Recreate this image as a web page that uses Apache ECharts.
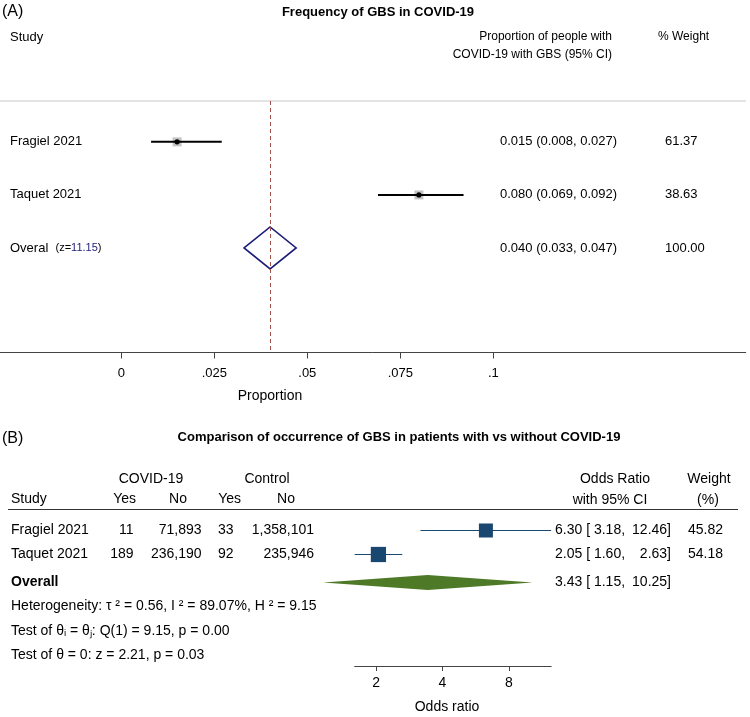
<!DOCTYPE html>
<html><head><meta charset="utf-8">
<script src="https://cdn.jsdelivr.net/npm/echarts@6/dist/echarts.min.js"></script>
<style>html,body{margin:0;padding:0;background:#fff}#c{width:750px;height:717px}</style>
</head><body><div id="c"></div>
<script>
// ---------- Panel A data ----------
const studiesA = ['Fragiel 2021', 'Taquet 2021'];
const propA = [0.015, 0.080];
const loA = [0.008, 0.069];
const hiA = [0.027, 0.092];
const weightA = ['61.37', '38.63'];
const overallPropA = 0.040;
const overallLoA = 0.033;
const overallHiA = 0.047;
const overallWeightA = '100.00';
const overallZA = '11.15';
const ticksA = [0, 0.025, 0.05, 0.075, 0.1];
const tickLabelsA = ['0', '.025', '.05', '.075', '.1'];

// ---------- Panel B data ----------
const studiesB = ['Fragiel 2021', 'Taquet 2021'];
const covidYes = [11, 189];
const covidNo = [71893, 236190];
const ctrlYes = [33, 92];
const ctrlNo = [1358101, 235946];
const orB = [6.30, 2.05];
const loB = [3.18, 1.60];
const hiB = [12.46, 2.63];
const weightB = [45.82, 54.18];
const overallOrB = 3.43;
const overallLoB = 1.15;
const overallHiB = 10.25;
const ticksB = [2, 4, 8];

const FONT = '"Liberation Sans", Arial, Helvetica, sans-serif';
function T(x, y, text, o) {
  o = o || {};
  const al = o.align || 'left';
  return {
    type: 'text', x: x, y: y, silent: true,
    style: {
      text: text, fill: o.fill || '#000', fontSize: o.size || 13, fontFamily: FONT,
      fontWeight: o.weight || 'normal',
      textAlign: al, align: al, textVerticalAlign: 'middle', verticalAlign: 'middle',
      rich: o.rich
    }
  };
}
const fmtInt = v => v.toLocaleString('en-US');

const chart = echarts.init(document.getElementById('c'), null, {renderer: 'canvas'});

const option = {
  backgroundColor: '#fff',
  animation: false,
  grid: [
    {left: 0, top: 101, width: 745.7, height: 251.5},
    {left: 354.7, top: 510, width: 196.5, height: 156}
  ],
  xAxis: [
    {
      gridIndex: 0, type: 'value', min: -0.03261, max: 0.16785,
      splitLine: {show: false},
      axisLine: {lineStyle: {color: '#444', width: 1}},
      axisTick: {customValues: ticksA, length: 6, lineStyle: {color: '#444'}},
      axisLabel: {
        customValues: ticksA, fontSize: 13, color: '#000', fontFamily: FONT, margin: 14,
        formatter: v => { const i = ticksA.findIndex(t => Math.abs(t - v) < 1e-9); return i >= 0 ? tickLabelsA[i] : ''; }
      }
    },
    {
      gridIndex: 1, type: 'log', logBase: 2, min: 1.60, max: 12.46,
      splitLine: {show: false},
      axisLine: {lineStyle: {color: '#444', width: 1}},
      axisTick: {customValues: ticksB, length: 5, lineStyle: {color: '#444'}},
      axisLabel: {customValues: ticksB, fontSize: 14, color: '#000', fontFamily: FONT, margin: 10,
        formatter: v => String(Math.round(v))}
    }
  ],
  yAxis: [
    {gridIndex: 0, type: 'value', inverse: true, min: 0.23, max: 4.97, show: false},
    {gridIndex: 1, type: 'value', inverse: true, min: 0.146, max: 6.646, show: false}
  ],
  graphic: [
    // Panel A headers
    T(2, 12, '(A)', {size: 16}),
    T(378, 12, 'Frequency of GBS in COVID-19', {size: 13, weight: 'bold', align: 'center'}),
    T(10, 37, 'Study', {size: 13}),
    T(612, 37, 'Proportion of people with', {size: 12, align: 'right'}),
    T(612, 55, 'COVID-19 with GBS (95% CI)', {size: 12, align: 'right'}),
    T(658, 37, '% Weight', {size: 12}),
    {type: 'line', silent: true, shape: {x1: 0, y1: 101, x2: 746, y2: 101}, style: {stroke: '#c8c8c8', lineWidth: 1}},
    T(270, 396, 'Proportion', {size: 14, align: 'center'}),
    // Panel B headers
    T(2, 439, '(B)', {size: 16}),
    T(399, 437, 'Comparison of occurrence of GBS in patients with vs without COVID-19', {size: 13, weight: 'bold', align: 'center'}),
    T(151, 479, 'COVID-19', {size: 14, align: 'center'}),
    T(267, 479, 'Control', {size: 14, align: 'center'}),
    T(11, 499, 'Study', {size: 14}),
    T(136, 499, 'Yes', {size: 14, align: 'right'}),
    T(187, 499, 'No', {size: 14, align: 'right'}),
    T(241, 499, 'Yes', {size: 14, align: 'right'}),
    T(295, 499, 'No', {size: 14, align: 'right'}),
    T(615, 479, 'Odds Ratio', {size: 14, align: 'center'}),
    T(610, 500, 'with 95% CI', {size: 14, align: 'center'}),
    T(709, 479, 'Weight', {size: 14, align: 'center'}),
    T(708, 500, '(%)', {size: 14, align: 'center'}),
    {type: 'line', silent: true, shape: {x1: 8, y1: 509.5, x2: 738, y2: 509.5}, style: {stroke: '#333', lineWidth: 1}},
    T(11, 606, 'Heterogeneity: \u03C4 \u00B2 = 0.56, I \u00B2 = 89.07%, H \u00B2 = 9.15', {size: 14}),
    T(11, 631, 'Test of \u03B8\u1D62 = \u03B8\u2C7C: Q(1) = 9.15, p = 0.00', {size: 14}),
    T(11, 655, 'Test of \u03B8 = 0: z = 2.21, p = 0.03', {size: 14}),
    T(447, 707, 'Odds ratio', {size: 14, align: 'center'})
  ],
  series: [
    // Panel A studies
    {
      type: 'custom', xAxisIndex: 0, yAxisIndex: 0,
      data: studiesA.map((s, i) => [propA[i], loA[i], hiA[i], i + 1]),
      encode: {x: [0, 1, 2], y: 3},
      renderItem: (params, api) => {
        const i = params.dataIndex;
        const r = api.value(3);
        const p = api.coord([api.value(0), r]);
        const l = api.coord([api.value(1), r]);
        const h = api.coord([api.value(2), r]);
        return {type: 'group', children: [
          {type: 'rect', shape: {x: p[0] - 4.5, y: p[1] - 4.5, width: 9, height: 9}, style: {fill: '#c4c4c4'}},
          {type: 'line', shape: {x1: l[0], y1: l[1], x2: h[0], y2: h[1]}, style: {stroke: '#000', lineWidth: 2}},
          {type: 'circle', shape: {cx: p[0], cy: p[1], r: 2.6}, style: {fill: '#000'}},
          T(10, p[1], studiesA[i], {size: 13}),
          T(500, p[1], propA[i].toFixed(3) + ' (' + loA[i].toFixed(3) + ', ' + hiA[i].toFixed(3) + ')', {size: 13}),
          T(665, p[1], weightA[i], {size: 13})
        ]};
      }
    },
    // Panel A overall
    {
      type: 'custom', xAxisIndex: 0, yAxisIndex: 0,
      data: [[overallPropA, overallLoA, overallHiA, studiesA.length + 1]],
      encode: {x: [0, 1, 2], y: 3},
      renderItem: (params, api) => {
        const r = api.value(3);
        const p = api.coord([api.value(0), r]);
        const l = api.coord([api.value(1), r]);
        const h = api.coord([api.value(2), r]);
        return {type: 'group', children: [
          {type: 'polygon', shape: {points: [[l[0], p[1]], [p[0], p[1] - 21], [h[0], p[1]], [p[0], p[1] + 21]]},
            style: {fill: '#fff', stroke: '#1c1c78', lineWidth: 1.6}},
          T(10, p[1], '{a|Overal}  {b|(z=}{c|' + overallZA + '}{b|)}', {size: 13, rich: {
            a: {fontSize: 13, fontFamily: FONT, fill: '#000', color: '#000'},
            b: {fontSize: 11, fontFamily: FONT, fill: '#000', color: '#000'},
            c: {fontSize: 11, fontFamily: FONT, fill: '#1c1c78', color: '#1c1c78'}
          }}),
          T(500, p[1], overallPropA.toFixed(3) + ' (' + overallLoA.toFixed(3) + ', ' + overallHiA.toFixed(3) + ')', {size: 13}),
          T(665, p[1], overallWeightA, {size: 13})
        ]};
      },
      markLine: {
        silent: true, symbol: 'none', label: {show: false},
        lineStyle: {color: '#a2504c', type: [4, 3], width: 1},
        data: [{xAxis: overallPropA}]
      }
    },
    // Panel B studies
    {
      type: 'custom', xAxisIndex: 1, yAxisIndex: 1,
      data: studiesB.map((s, i) => [orB[i], loB[i], hiB[i], i + 1, weightB[i]]),
      encode: {x: [0, 1, 2], y: 3},
      renderItem: (params, api) => {
        const i = params.dataIndex;
        const r = api.value(3);
        const p = api.coord([api.value(0), r]);
        const l = api.coord([api.value(1), r]);
        const h = api.coord([api.value(2), r]);
        const s = 2.07 * Math.sqrt(api.value(4));
        return {type: 'group', children: [
          {type: 'line', shape: {x1: l[0], y1: p[1], x2: h[0], y2: p[1]}, style: {stroke: '#1a476f', lineWidth: 1}},
          {type: 'rect', shape: {x: p[0] - s / 2, y: p[1] - s / 2, width: s, height: s}, style: {fill: '#1a476f'}},
          T(11, p[1], studiesB[i], {size: 14}),
          T(133.5, p[1], fmtInt(covidYes[i]), {size: 14, align: 'right'}),
          T(201.5, p[1], fmtInt(covidNo[i]), {size: 14, align: 'right'}),
          T(233.5, p[1], fmtInt(ctrlYes[i]), {size: 14, align: 'right'}),
          T(314, p[1], fmtInt(ctrlNo[i]), {size: 14, align: 'right'}),
          T(555, p[1], orB[i].toFixed(2) + ' [ ' + loB[i].toFixed(2) + ',', {size: 14}),
          T(671, p[1], hiB[i].toFixed(2) + ']', {size: 14, align: 'right'}),
          T(688, p[1], weightB[i].toFixed(2), {size: 14})
        ]};
      }
    },
    // Panel B overall
    {
      type: 'custom', xAxisIndex: 1, yAxisIndex: 1,
      data: [[overallOrB, overallLoB, overallHiB, studiesB.length + 1.17]],
      encode: {x: [0, 1, 2], y: 3},
      renderItem: (params, api) => {
        const r = api.value(3);
        const p = api.coord([api.value(0), r]);
        const l = api.coord([api.value(1), r]);
        const h = api.coord([api.value(2), r]);
        return {type: 'group', children: [
          {type: 'polygon', shape: {points: [[l[0], p[1]], [p[0], p[1] - 7.5], [h[0], p[1]], [p[0], p[1] + 7.5]]},
            style: {fill: '#4e7a27'}},
          T(11, p[1], 'Overall', {size: 14, weight: 'bold'}),
          T(555, p[1], overallOrB.toFixed(2) + ' [ ' + overallLoB.toFixed(2) + ',', {size: 14}),
          T(671, p[1], overallHiB.toFixed(2) + ']', {size: 14, align: 'right'})
        ]};
      }
    }
  ]
};
chart.setOption(option);
</script>
</body></html>
